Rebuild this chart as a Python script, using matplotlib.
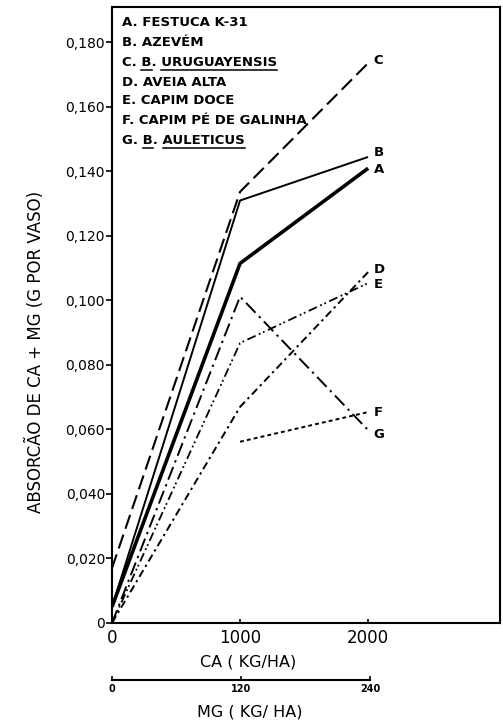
import numpy as np
import matplotlib
matplotlib.use("Agg")
import matplotlib.pyplot as plt
from matplotlib.lines import Line2D

ca_dose = [0, 1000, 2000]
mg_ticks = [0, 120, 240]
yticks = [0, 0.02, 0.04, 0.06, 0.08, 0.10, 0.12, 0.14, 0.16, 0.18]
ytick_labels = ["0", "0,020", "0,040", "0,060", "0,080", "0,100", "0,120", "0,140", "0,160", "0,180"]

series_a = [0.005, 0.1115, 0.141]     # festuca
series_b = [0.005, 0.131, 0.1445]     # azevem
series_c = [0.017, 0.1337, 0.1736]    # b. uruguayensis
series_d = [0.0, 0.067, 0.1088]       # aveia alta
series_e = [0.0, 0.0868, 0.1054]      # capim doce
series_f = [np.nan, 0.0562, 0.0654]   # capim pe de galinha (no value at 0)
series_g = [0.0, 0.1012, 0.0598]      # b. auleticus

legend_rows = ["A. FESTUCA K-31", "B. AZEVÉM", "C. B. URUGUAYENSIS", "D. AVEIA ALTA",
               "E. CAPIM DOCE", "F. CAPIM PÉ DE GALINHA", "G. B. AULETICUS"]

W, H = 503, 723
fig = plt.figure(figsize=(W / 100, H / 100), dpi=100)
ax = fig.add_axes([112 / W, 100 / H, 388 / W, 616 / H])

K = "black"
styles = {
    "A": dict(ls="-", lw=2.6),
    "B": dict(ls="-", lw=1.4),
    "C": dict(ls=(0, (7, 3)), lw=1.5),
    "D": dict(ls=(0, (4, 2, 1.2, 2)), lw=1.4),
    "E": dict(ls=(0, (5, 2, 1, 1.5, 1, 2)), lw=1.3),
    "F": dict(ls=(0, (2, 1.6)), lw=1.4),
    "G": dict(ls=(0, (7, 2.5, 1.2, 2.5)), lw=1.4),
}
data = {"A": series_a, "B": series_b, "C": series_c, "D": series_d,
        "E": series_e, "F": series_f, "G": series_g}
for k, vals in data.items():
    ax.plot(ca_dose, vals, color=K, solid_capstyle="butt", **styles[k])

# end letters next to the 2000 points (small nudges so B/A and D/E don't collide)
nudge = {"A": -1, "B": 3, "C": 2, "D": 2, "E": -1, "F": 0, "G": -3}
for k, vals in data.items():
    ax.annotate(k, (ca_dose[-1], vals[-1]), xytext=(4, nudge[k]), textcoords="offset points",
                ha="left", va="center", fontsize=9.5, fontweight="bold")

ax.set_xlim(0, 3030)
ax.set_ylim(0, 0.191)
ax.set_xticks(ca_dose)
ax.set_xticklabels(["0", "1000", "2000"], fontsize=12)
ax.set_yticks(yticks)
ax.set_yticklabels(ytick_labels, fontsize=10)
ax.tick_params(axis="y", direction="out", length=4, width=1.2, pad=1)
ax.tick_params(axis="x", direction="in", length=3, width=1.2, pad=4)
for s in ax.spines.values():
    s.set_linewidth(1.5)

# legend block, top-left inside the frame
row_y = [22, 42, 62, 82, 101, 121, 140]
txts = []
for lab, yy in zip(legend_rows, row_y):
    t = fig.text(122 / W, 1 - yy / H, lab, ha="left", va="center",
                 fontsize=9.5, fontweight="bold")
    txts.append(t)

# underline the latin names (C and G rows)
fig.canvas.draw()
rend = fig.canvas.get_renderer()


def xwidth(s, ref):
    tmp = fig.text(0, 0, s, fontsize=ref.get_fontsize(), fontweight="bold")
    w = tmp.get_window_extent(rend).width
    tmp.remove()
    return w


for idx in (2, 6):
    t = txts[idx]
    s = t.get_text()
    bb = t.get_window_extent(rend)
    x0 = bb.x0
    yline = bb.y0 - 1
    parts = [(s.index("B."), s.index("B.") + 1), (s.index("B.") + 3, len(s))]
    for a, b in parts:
        xa = x0 + xwidth(s[:a], t) if a else x0
        xb = x0 + xwidth(s[:b], t)
        fig.add_artist(Line2D([xa / W, xb / W], [yline / H, yline / H], color=K, lw=1.1,
                              transform=fig.transFigure))

fig.text(35 / W, 1 - 352 / H, "ABSORCÃO DE CA + MG (G POR VASO)", rotation=90,
         ha="center", va="center", fontsize=12)
fig.text(248 / W, 1 - 662 / H, "CA ( KG/HA)", ha="center", va="center", fontsize=11.5)

# second scale for Mg under the Ca axis
ax2 = fig.add_axes([112 / W, (723 - 680) / H, 258 / W, 0.01])
ax2.set_xlim(0, 240)
ax2.set_ylim(0, 1)
for n in ("top", "left", "right"):
    ax2.spines[n].set_visible(False)
ax2.spines["bottom"].set_linewidth(1.5)
ax2.set_yticks([])
ax2.set_xticks(mg_ticks)
ax2.set_xticklabels([str(v) for v in mg_ticks], fontsize=7, fontweight="bold")
ax2.tick_params(axis="x", direction="in", length=3, width=1.2, pad=3)
ax2.patch.set_visible(False)
fig.text(250 / W, 1 - 712 / H, "MG ( KG/ HA)", ha="center", va="center", fontsize=11.5)

fig.savefig("out.png", dpi=100)
